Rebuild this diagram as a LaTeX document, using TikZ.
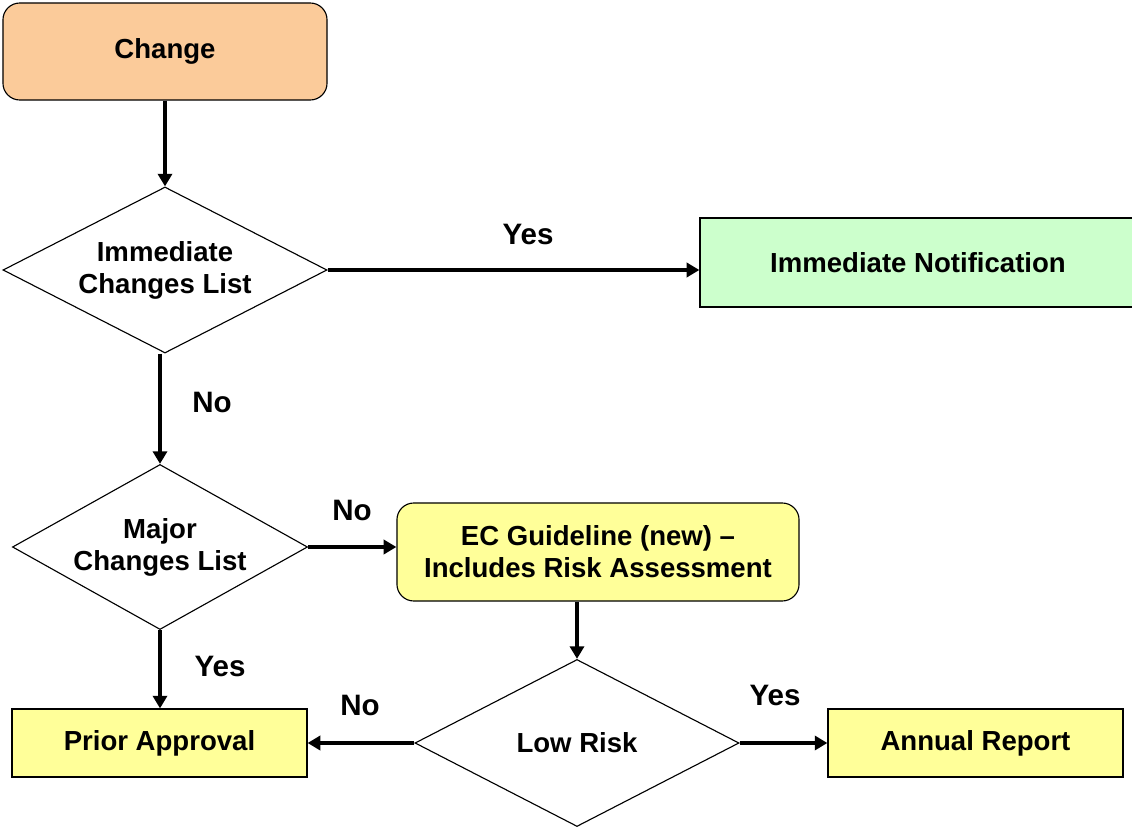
\documentclass[tikz,border=0pt]{standalone}
\usepackage{fontspec}
\setmainfont{Liberation Sans}
\usetikzlibrary{shapes.geometric,arrows.meta}
\definecolor{changefill}{HTML}{FBCB9A}
\definecolor{notifyfill}{HTML}{CCFFCC}
\definecolor{notefill}{HTML}{FFFF99}
\begin{document}
\begin{tikzpicture}[x=0.025cm, y=-0.025cm,
    font=\fontsize{19.6}{22.8}\selectfont\bfseries,
    box/.style={draw, line width=0.8pt, inner sep=0pt, align=center},
    decision/.style={draw, line width=0.8pt, diamond, aspect=2, inner sep=0pt, align=center, fill=white},
    flow/.style={line width=3.4pt, -{Triangle[length=9pt, width=10pt]}},
    answer/.style={font=\fontsize{21}{24}\selectfont\bfseries}]
  \useasboundingbox (0,0) rectangle (1132,827);
  \node[box, rounded corners=12pt, fill=changefill, minimum width=8.1cm, minimum height=2.425cm] (change) at (165,51.5) {Change};
  \node[decision, minimum width=8.1cm, minimum height=4.15cm] (immed) at (165,270) {Immediate\\Changes List};
  \node[box, fill=notifyfill, minimum width=10.9cm, minimum height=2.225cm] (notify) at (918,262.5) {Immediate Notification};
  \node[decision, minimum width=7.375cm, minimum height=4.125cm] (major) at (160,547) {Major\\Changes List};
  \node[box, rounded corners=12pt, fill=notefill, minimum width=10.05cm, minimum height=2.45cm] (guide) at (598,552) {EC Guideline (new) --\\Includes Risk Assessment};
  \node[decision, minimum width=8.1cm, minimum height=4.175cm] (risk) at (577,743) {Low Risk};
  \node[box, fill=notefill, minimum width=7.375cm, minimum height=1.7cm] (prior) at (159.5,743) {Prior Approval};
  \node[box, fill=notefill, minimum width=7.375cm, minimum height=1.7cm] (annual) at (975.5,743) {Annual Report};
  \draw[flow] (change.south -| immed.north) -- (immed.north);
  \draw[flow] (immed.east) -- (notify.west |- immed.east);
  \draw[flow] (immed.south -| major.north) -- (major.north);
  \draw[flow] (major.east) -- (guide.west |- major.east);
  \draw[flow] (guide.south -| risk.north) -- (risk.north);
  \draw[flow] (major.south) -- (prior.north -| major.south);
  \draw[flow] (risk.west) -- (prior.east |- risk.west);
  \draw[flow] (risk.east) -- (annual.west |- risk.east);
  \node[answer] (yesnotify) at (528,234) {Yes};
  \node[answer] (nomajor) at (212,402) {No};
  \node[answer] (noguide) at (352,510) {No};
  \node[answer] (yesprior) at (220,666) {Yes};
  \node[answer] (noprior) at (360,705) {No};
  \node[answer] (yesannual) at (775,695) {Yes};
\end{tikzpicture}
\end{document}
